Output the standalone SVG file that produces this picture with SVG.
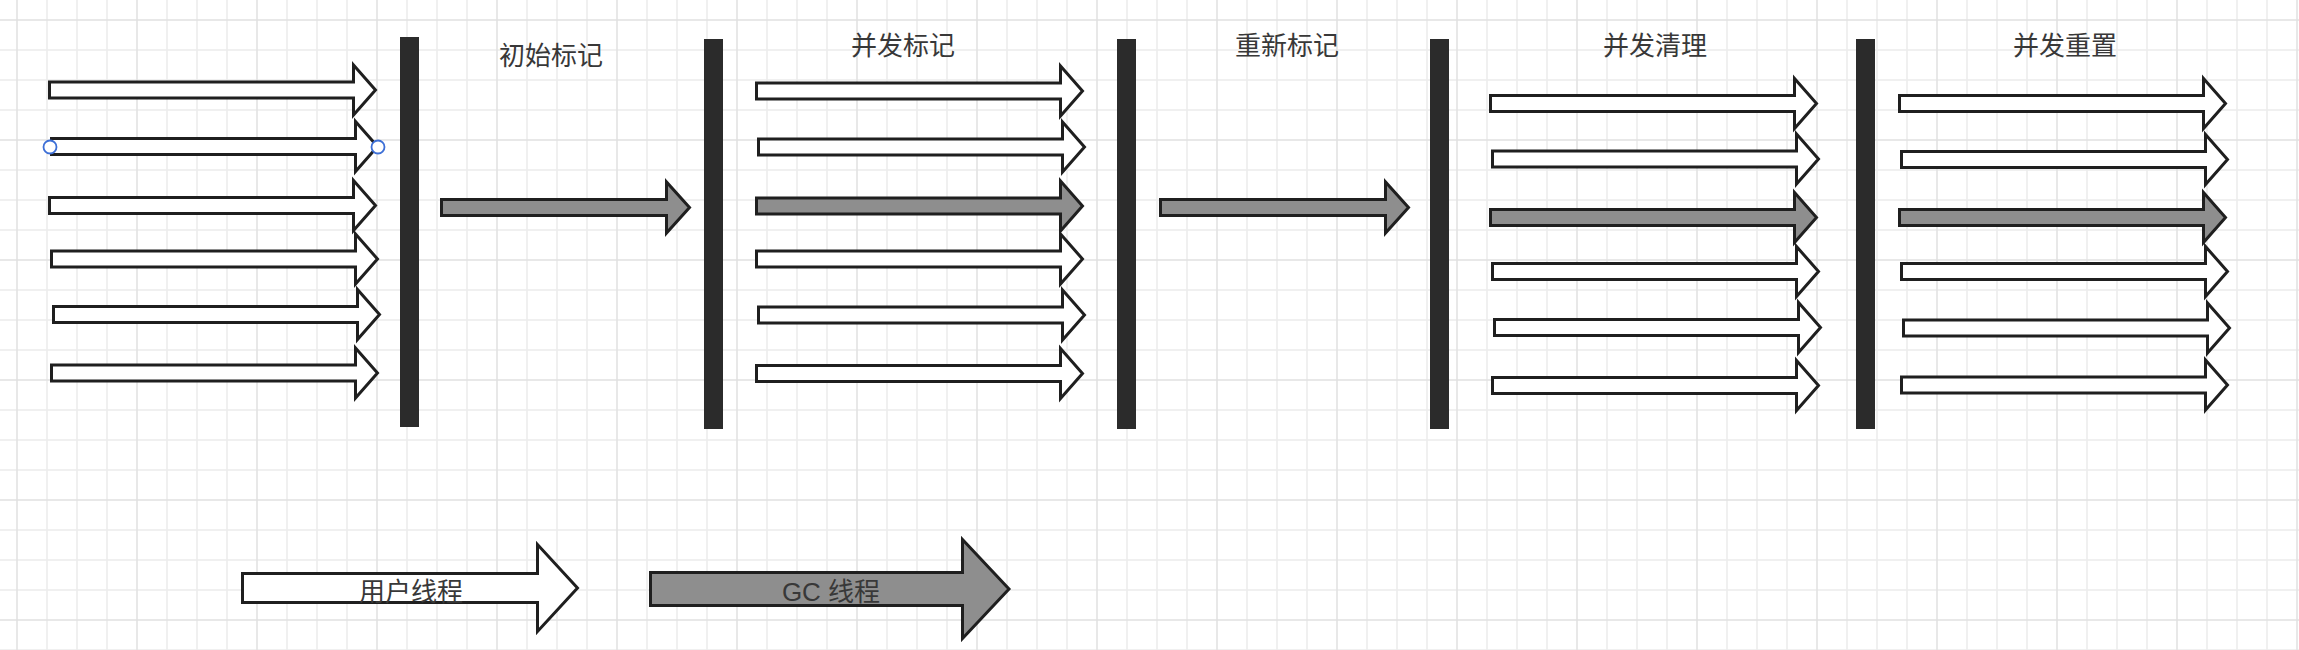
<svg xmlns="http://www.w3.org/2000/svg" xmlns:xlink="http://www.w3.org/1999/xlink" width="2299" height="650" viewBox="0 0 2299 650">
  <style>
    .ua { fill: #ffffff; stroke: #1f1f1f; stroke-width: 3; stroke-linejoin: miter; }
    .ga { fill: #8e8e8e; stroke: #1f1f1f; stroke-width: 3; stroke-linejoin: miter; }
    .bar { fill: #2b2b2b; }
    .lbl { font-family: "Liberation Sans", "Noto Sans CJK SC", sans-serif; font-size: 26px; fill: #383838; text-anchor: middle; }
    .handle { fill: #ffffff; stroke: #3d6fd6; stroke-width: 1.8; }
  </style>
  <defs>
    <pattern id="grid" x="16" y="19" width="120" height="120" patternUnits="userSpaceOnUse">
      <path d="M31,0V120M61,0V120M91,0V120M0,31H120M0,61H120M0,91H120" stroke="#ececec" stroke-width="1.5" fill="none"/>
      <path d="M1,0V120M0,1H120" stroke="#e1e1e1" stroke-width="1.5" fill="none"/>
    </pattern>
    <path id="thread" d="M0,-8 H304 V-25 L326,0 L304,25 V8 H0 Z"/>
    <path id="gcmid" d="M0,-8 H225 V-25.5 L248,0 L225,25.5 V8 H0 Z"/>
  </defs>

  <rect x="0" y="0" width="2299" height="650" fill="#ffffff"/>
  <rect x="0" y="0" width="2299" height="650" fill="url(#grid)"/>

  <!-- Phase 1: user threads running -->
  <g id="phase1-threads">
    <use xlink:href="#thread" class="ua" transform="translate(49.5,90)"/>
    <use xlink:href="#thread" class="ua" transform="translate(51.5,146.5)"/>
    <use xlink:href="#thread" class="ua" transform="translate(49.5,205.5)"/>
    <use xlink:href="#thread" class="ua" transform="translate(51.5,259)"/>
    <use xlink:href="#thread" class="ua" transform="translate(53.5,314.5)"/>
    <use xlink:href="#thread" class="ua" transform="translate(51.5,373)"/>
    <circle class="handle" cx="50" cy="147" r="6.5"/>
    <circle class="handle" cx="378" cy="147" r="6.5"/>
  </g>

  <g id="barrier1"><rect class="bar" x="400" y="37" width="19" height="390"/></g>

  <!-- Initial mark -->
  <g id="initial-mark">
    <text class="lbl" x="551" y="65">初始标记</text>
    <use xlink:href="#gcmid" class="ga" transform="translate(441.5,207.5)"/>
  </g>

  <g id="barrier2"><rect class="bar" x="704" y="39" width="19" height="390"/></g>

  <!-- Concurrent mark -->
  <g id="concurrent-mark">
    <text class="lbl" x="903" y="55">并发标记</text>
    <use xlink:href="#thread" class="ua" transform="translate(756.5,91)"/>
    <use xlink:href="#thread" class="ua" transform="translate(758.5,147)"/>
    <use xlink:href="#thread" class="ga" transform="translate(756.5,206)"/>
    <use xlink:href="#thread" class="ua" transform="translate(756.5,259)"/>
    <use xlink:href="#thread" class="ua" transform="translate(758.5,315)"/>
    <use xlink:href="#thread" class="ua" transform="translate(756.5,373.5)"/>
  </g>

  <g id="barrier3"><rect class="bar" x="1117" y="39" width="19" height="390"/></g>

  <!-- Remark -->
  <g id="remark">
    <text class="lbl" x="1287" y="55">重新标记</text>
    <use xlink:href="#gcmid" class="ga" transform="translate(1160.5,207.5)"/>
  </g>

  <g id="barrier4"><rect class="bar" x="1430" y="39" width="19" height="390"/></g>

  <!-- Concurrent sweep -->
  <g id="concurrent-sweep">
    <text class="lbl" x="1655" y="55">并发清理</text>
    <use xlink:href="#thread" class="ua" transform="translate(1490.5,103.5)"/>
    <use xlink:href="#thread" class="ua" transform="translate(1492.5,159)"/>
    <use xlink:href="#thread" class="ga" transform="translate(1490.5,217.5)"/>
    <use xlink:href="#thread" class="ua" transform="translate(1492.5,271.5)"/>
    <use xlink:href="#thread" class="ua" transform="translate(1494.5,327.5)"/>
    <use xlink:href="#thread" class="ua" transform="translate(1492.5,385.5)"/>
  </g>

  <g id="barrier5"><rect class="bar" x="1856" y="39" width="19" height="390"/></g>

  <!-- Concurrent reset -->
  <g id="concurrent-reset">
    <text class="lbl" x="2065" y="55">并发重置</text>
    <use xlink:href="#thread" class="ua" transform="translate(1899.5,103.5)"/>
    <use xlink:href="#thread" class="ua" transform="translate(1901.5,159.5)"/>
    <use xlink:href="#thread" class="ga" transform="translate(1899.5,217.5)"/>
    <use xlink:href="#thread" class="ua" transform="translate(1901.5,271.5)"/>
    <use xlink:href="#thread" class="ua" transform="translate(1903.5,328)"/>
    <use xlink:href="#thread" class="ua" transform="translate(1901.5,385)"/>
  </g>

  <!-- Legend -->
  <g id="legend-user-thread">
    <path class="ua" transform="translate(242.5,588)" d="M0,-14.5 H295 V-43.5 L335,0 L295,43.5 V14.5 H0 Z"/>
    <text class="lbl" x="411" y="601">用户线程</text>
  </g>
  <g id="legend-gc-thread">
    <path class="ga" transform="translate(650.5,589)" d="M0,-16.5 H312 V-49.5 L358.5,0 L312,49.5 V16.5 H0 Z"/>
    <text class="lbl" x="831" y="601">GC 线程</text>
  </g>

  <g id="connectors"/>
</svg>
